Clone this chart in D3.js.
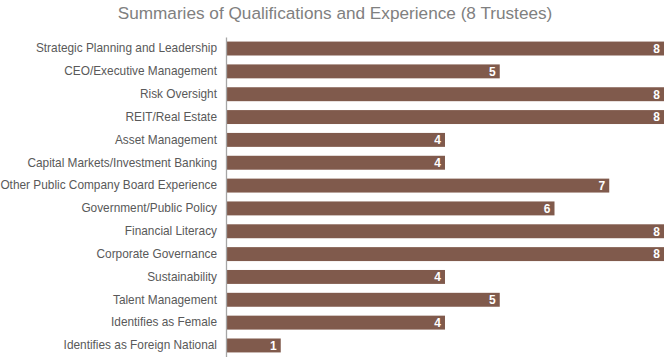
<!DOCTYPE html>
<html><head><meta charset="utf-8">
<script src="https://cdn.jsdelivr.net/npm/d3@7"></script>
<style>body{margin:0;background:#fff;}svg{display:block;}</style>
</head><body>
<svg id="chart" width="666" height="357"></svg>
<script>
const categories = ["Strategic Planning and Leadership","CEO/Executive Management","Risk Oversight","REIT/Real Estate","Asset Management","Capital Markets/Investment Banking","Other Public Company Board Experience","Government/Public Policy","Financial Literacy","Corporate Governance","Sustainability","Talent Management","Identifies as Female","Identifies as Foreign National"];
const values = [8,5,8,8,4,4,7,6,8,8,4,5,4,1];
const title = "Summaries of Qualifications and Experience (8 Trustees)";

const svg = d3.select("#chart");
const font = "Arial, 'Liberation Sans', sans-serif";
const x = d3.scaleLinear().domain([0,8]).range([226,664]);
const y = d3.scaleBand().domain(categories).range([37,357]).paddingInner(0.39).paddingOuter(0.2);

svg.append("text").attr("x",335).attr("y",19).attr("text-anchor","middle")
  .attr("font-family",font).attr("font-size",17.2).attr("fill","#808080").text(title);

svg.selectAll("rect.bar").data(categories).join("rect").attr("class","bar")
  .attr("x",x(0)).attr("y",d=>y(d)).attr("height",y.bandwidth())
  .attr("width",(d,i)=>x(values[i])-x(0)).attr("fill","#805a4c");

svg.selectAll("text.val").data(categories).join("text").attr("class","val")
  .attr("x",(d,i)=>x(values[i])-4).attr("y",d=>y(d)+y.bandwidth()/2).attr("dy","0.36em")
  .attr("text-anchor","end").attr("font-family",font).attr("font-size",12).attr("font-weight","bold")
  .attr("fill","#fff").text((d,i)=>values[i]);

const ax = svg.append("g").attr("transform",`translate(${x(0)},0)`)
  .call(d3.axisLeft(y).tickSize(0).tickPadding(9));
ax.select(".domain").attr("stroke","#a6a6a6").attr("stroke-width",1.3);
ax.selectAll("text").attr("font-family",font).attr("font-size",11.85).attr("fill","#595959");
</script>
</body></html>
